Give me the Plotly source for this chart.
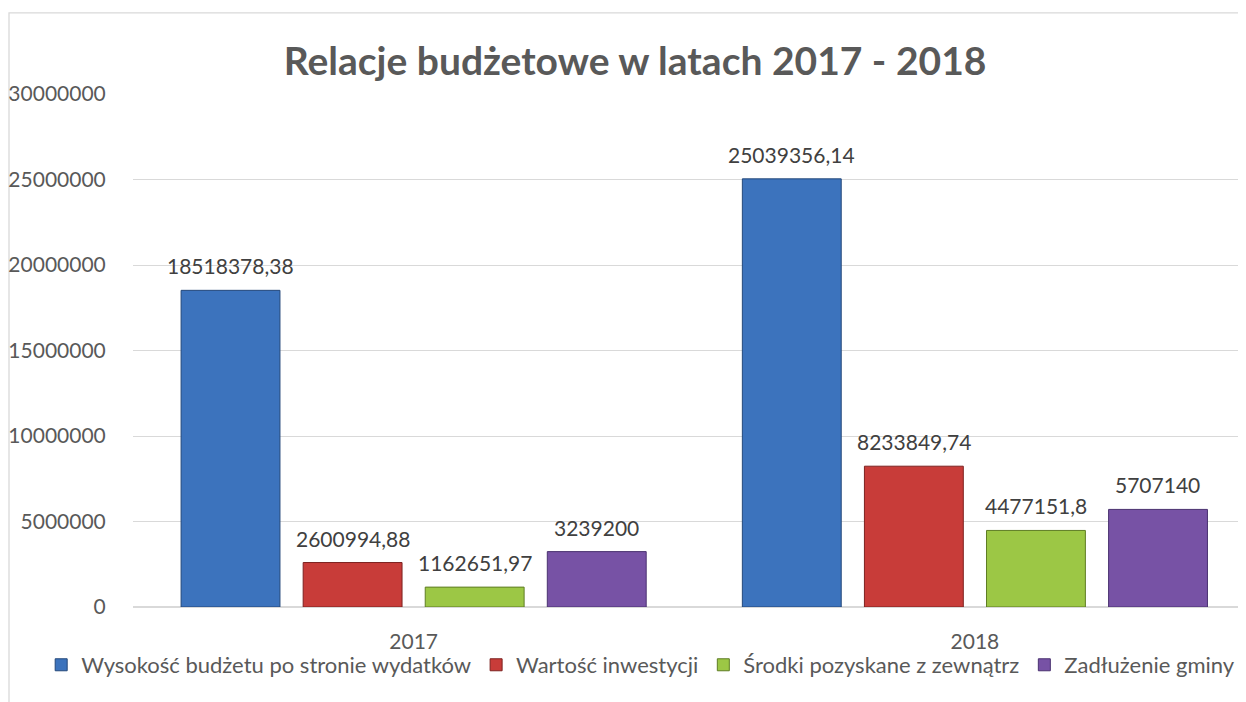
import plotly.graph_objects as go

years = ["2017", "2018"]
series_names = [
    "Wysokość budżetu po stronie wydatków",
    "Wartość inwestycji",
    "Środki pozyskane z zewnątrz",
    "Zadłużenie gminy",
]
budget = [18518378.38, 25039356.14]
investments = [2600994.88, 8233849.74]
external_funds = [1162651.97, 4477151.8]
debt = [3239200, 5707140]

colors = ["#3c73bd", "#c83c39", "#9cc745", "#7752a5"]
edges = ["#24487a", "#7d2220", "#5f7d24", "#4a3270"]


def fmt(v):
    # Polish style: decimal comma, no thousands separator
    s = f"{v:.2f}".rstrip("0").rstrip(".")
    return s.replace(".", ",")


fig = go.Figure()
all_values = [budget, investments, external_funds, debt]
for name, vals, col, edge in zip(series_names, all_values, colors, edges):
    fig.add_trace(
        go.Bar(
            x=years,
            y=vals,
            name=name,
            marker=dict(color=col, line=dict(color=edge, width=1)),
            hoverinfo="skip",
        )
    )

# data labels above bars (x given as category index, "2017" would be read as a number)
shifts = [-183, -61, 61, 183]
for vals, dx in zip(all_values, shifts):
    for i, v in enumerate(vals):
        fig.add_annotation(
            x=i,
            y=v,
            text=fmt(v),
            showarrow=False,
            xshift=dx,
            yshift=10,
            yanchor="bottom",
            font=dict(family="Lato", size=21, color="#404040"),
        )

# chart frame
fig.add_shape(
    type="rect",
    xref="paper",
    yref="paper",
    x0=-0.1114,
    x1=1.05,
    y0=-0.3,
    y1=1.158,
    line=dict(color="#d9d9d9", width=1.3),
    layer="below",
)

fig.update_layout(
    width=1238,
    height=694,
    paper_bgcolor="white",
    plot_bgcolor="white",
    margin=dict(l=125, r=0, t=86, b=95),
    barmode="group",
    bargap=0.13,
    bargroupgap=0.19,
    font=dict(family="Lato", size=21, color="#595959"),
    title=dict(
        text="<b>Relacje budżetowe w latach 2017 - 2018</b>",
        xref="container",
        x=0.5065,
        xanchor="center",
        y=0.9236,
        yanchor="middle",
        font=dict(family="Lato", size=39, color="#595959"),
    ),
    legend=dict(
        orientation="h",
        x=-0.0825,
        xanchor="left",
        y=-0.113,
        yanchor="middle",
        itemwidth=30,
        bgcolor="rgba(0,0,0,0)",
        font=dict(family="Lato", size=22, color="#595959"),
    ),
    xaxis=dict(
        type="category",
        range=[-0.5, 1.483],
        showgrid=False,
        showline=False,
        ticks="outside",
        ticklen=16,
        tickcolor="rgba(0,0,0,0)",
        automargin=False,
        fixedrange=True,
    ),
    yaxis=dict(
        range=[0, 30000000],
        dtick=5000000,
        tickformat="d",
        showgrid=True,
        gridcolor="#d9d9d9",
        gridwidth=1.3,
        zeroline=True,
        zerolinecolor="#d9d9d9",
        zerolinewidth=1.5,
        ticks="outside",
        ticklen=22,
        tickcolor="rgba(0,0,0,0)",
        automargin=False,
        fixedrange=True,
    ),
)

fig.write_html("out.html")
